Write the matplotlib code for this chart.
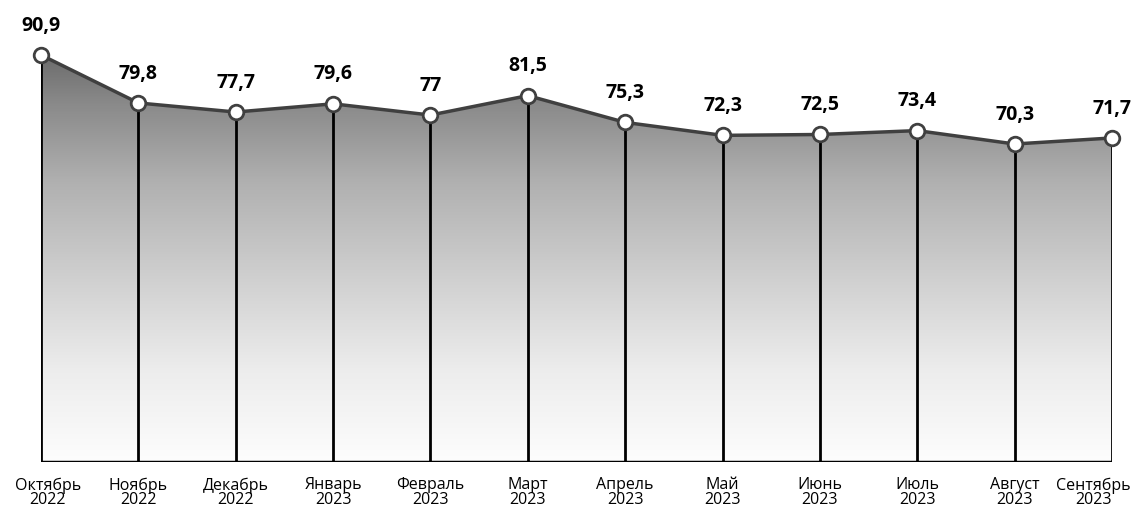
import numpy as np
import matplotlib.pyplot as plt
import matplotlib.transforms as mtransforms
from matplotlib.colors import LinearSegmentedColormap

# data
months = ["Октябрь\n2022", "Ноябрь\n2022", "Декабрь\n2022", "Январь\n2023", "Февраль\n2023", "Март\n2023",
          "Апрель\n2023", "Май\n2023", "Июнь\n2023", "Июль\n2023", "Август\n2023", "Сентябрь\n2023"]
values = [90.9, 79.8, 77.7, 79.6, 77.0, 81.5, 75.3, 72.3, 72.5, 73.4, 70.3, 71.7]
labels = ["90,9", "79,8", "77,7", "79,6", "77", "81,5", "75,3", "72,3", "72,5", "73,4", "70,3", "71,7"]

W, H = 1134, 511
fig = plt.figure(figsize=(W / 100, H / 100), dpi=100)
# axes in pixel coords: x from 41 to 1112, y from 462 (bottom) to 55 (top)
ax = fig.add_axes([41 / W, (H - 462) / H, (1112 - 41) / W, (462 - 55) / H])
ymin, ymax = -3.3, 90.9
x = np.arange(len(values))
ax.set_xlim(0, len(values) - 1)
ax.set_ylim(ymin, ymax)

# gradient fill under the line
cmap = LinearSegmentedColormap.from_list("g", [(0, "#6c6c6c"), (0.11, "#888888"), (0.31, "#b0b0b0"),
                                               (0.55, "#d0d0d0"), (0.77, "#ececec"), (1, "#fdfdfd")])
grad = np.linspace(0, 1, 256).reshape(-1, 1)
img = ax.imshow(grad, extent=[0, len(values) - 1, ymin, ymax], origin="upper",
                aspect="auto", cmap=cmap, zorder=1)
poly = ax.fill_between(x, values, ymin, color="none", lw=0)
img.set_clip_path(poly.get_paths()[0], transform=ax.transData)

# vertical lines
ax.vlines(x, ymin, values, color="black", lw=2, zorder=2)
ax.axhline(ymin, color="black", lw=2.5, zorder=2)

ax.plot(x, values, color="#404040", lw=2.5, zorder=3, clip_on=False)
ax.plot(x, values, "o", ms=10.5, mfc="white", mec="#404040", mew=2, zorder=4, clip_on=False)

for xi, v, t in zip(x, values, labels):
    ax.annotate(t, (xi, v), xytext=(0, 14), textcoords="offset points", ha="center", va="bottom",
                fontsize=14, fontweight="bold", family="Open Sans", color="black")

ax.set_xticks(x)
ax.set_xticklabels(months, fontsize=11.5, family="Open Sans", linespacing=0.9)
ax.tick_params(axis="x", length=0, pad=11)
# edge labels shifted inward like in the original
tl = ax.get_xticklabels()
tl[0].set_transform(tl[0].get_transform() + mtransforms.ScaledTranslation(7 / 100, 0, fig.dpi_scale_trans))
tl[-1].set_transform(tl[-1].get_transform() + mtransforms.ScaledTranslation(-19 / 100, 0, fig.dpi_scale_trans))
ax.set_yticks([])
for s in ax.spines.values():
    s.set_visible(False)

fig.savefig("out.png", dpi=100)
